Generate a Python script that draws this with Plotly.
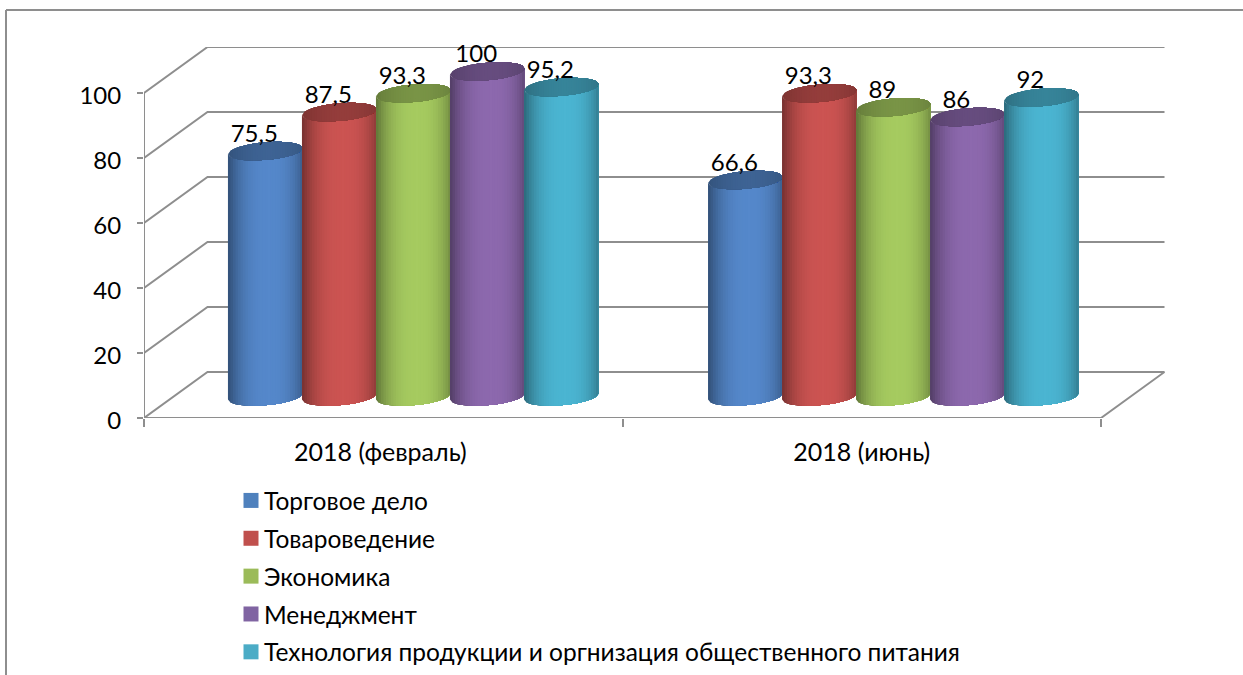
import numpy as np
import plotly.graph_objects as go

# ---- data ----
categories = ["2018 (февраль)", "2018 (июнь)"]
series_names = ["Торговое дело", "Товароведение", "Экономика", "Менеджмент",
                "Технология продукции и оргнизация общественного питания"]
torg = [75.5, 66.6]
tovar = [87.5, 93.3]
econ = [93.3, 89]
manag = [100, 86]
tech = [95.2, 92]
y_ticks = [0, 20, 40, 60, 80, 100]

# ---- style ----
series_values = [torg, tovar, econ, manag, tech]
legend_colors = ["#4F81BD", "#C0504D", "#9BBB59", "#8064A2", "#4BACC6"]
mid_colors = [(85, 136, 203), (204, 84, 82), (166, 203, 96), (141, 105, 174), (75, 181, 210)]
GRAY = "#8E8E8E"
FONT = "Lato"
FS = 24
W, H = 1243, 675
L, R, T, B = 144, 78, 47, 257           # plot area in px
PX_X = 478.5                            # px per category
PX_Y = 3.25                             # px per value unit
DX = 63.5 / PX_X                        # depth offset of the back wall
DY = 46 / PX_Y
X_MAX = (W - R - L) / PX_X
Y_MAX = (H - T - B) / PX_Y
BASE = 21.5 / PX_Y                      # floor of the cylinders above front axis
A, Bb, SK = 37.3 / PX_X, 8.8 / PX_Y, 3.0 / PX_Y   # ellipse half-axes and tilt
STEP = 74.0 / PX_X
CENTERS = [0.5627, 1.566]
N = 30


def shade(rgb, f):
    return "rgb(%d,%d,%d)" % tuple(min(255, int(c * f)) for c in rgb)


def body_f(u):
    d = (u - 0.1) / (1.1 if u < 0.1 else 0.9)
    edge = 0.58 if u < 0.1 else 0.70
    return 1 - (1 - edge) * abs(d) ** 2.6


def cap_f(u):
    d = (u - 0.1) / 1.1
    return 0.73 * (1 - 0.16 * d * d)


def arc(u, cy, sign):
    return cy + SK * u + sign * Bb * np.sqrt(max(0.0, 1 - u * u))


fig = go.Figure()

# back wall, side wall, floor and axes
gx, gy = [], []
for v in y_ticks:
    gx += [0, DX, 2 + DX, None]
    gy += [v, v + DY, v + DY, None]
gx += [0, 0, None, 0, 2, 2 + DX, None]
gy += [0, y_ticks[-1], None, 0, 0, DY, None]
fig.add_trace(go.Scatter(x=gx, y=gy, mode="lines", line=dict(color=GRAY, width=2),
                         cliponaxis=False, showlegend=False, hoverinfo="skip"))

edges = np.linspace(-1, 1, N + 1)
for s, vals in enumerate(series_values):
    off = (s - 2) * STEP
    for part in ("body", "cap"):
        for k in range(N):
            # each strip runs to the far edge and is painted over by the next one
            u0, um = edges[k], (edges[k] + edges[k + 1]) / 2
            us = np.linspace(u0, 1, N - k + 1)
            xs, ys = [], []
            for g, v in enumerate(vals):
                cx = CENTERS[g] + off
                top = BASE + v
                xl = [cx + A * u for u in us]
                if part == "body":
                    lo = [arc(u, BASE, -1) for u in us]
                    hi = [arc(u, top, -1) for u in us]
                else:
                    lo = [arc(u, top, -1) for u in us]
                    hi = [arc(u, top, 1) for u in us]
                xs += xl + xl[::-1] + [xl[0], None]
                ys += lo + hi[::-1] + [lo[0], None]
            f = body_f(um) if part == "body" else cap_f(um)
            col = shade(mid_colors[s], f)
            fig.add_trace(go.Scatter(x=xs, y=ys, mode="none", fill="toself", fillcolor=col,
                                     showlegend=False, hoverinfo="skip"))

# data labels
for s, vals in enumerate(series_values):
    fig.add_trace(go.Scatter(
        x=[CENTERS[g] + (s - 2) * STEP - 11 / PX_X for g in range(len(vals))],
        y=[BASE + v + 15.5 / PX_Y for v in vals],
        text=[f"{v:g}".replace(".", ",") for v in vals],
        mode="text", textposition="middle center", cliponaxis=False,
        textfont=dict(family=FONT, size=FS, color="#000000"),
        showlegend=False, hoverinfo="skip"))

# legend entries
for s, name in enumerate(series_names):
    fig.add_trace(go.Scatter(x=[None], y=[None], mode="markers", name=name,
                             legendgroup=name,
                             marker=dict(symbol="square", size=15, color=legend_colors[s])))

fig.update_layout(
    width=W, height=H, autosize=False,
    margin=dict(l=L, r=R, t=T, b=B, pad=0, autoexpand=False),
    paper_bgcolor="white", plot_bgcolor="white",
    font=dict(family=FONT, size=FS, color="#000000"),
    xaxis=dict(range=[0, X_MAX], showgrid=False, zeroline=False, showline=False,
               automargin=False, tickangle=0,
               tickmode="array", tickvals=[0.494, 1.5], ticktext=categories, ticks="",
               ticklabelstandoff=17, tickfont=dict(family=FONT, size=25),
               minor=dict(tickmode="array", tickvals=[0, 1, 2], ticks="outside",
                          ticklen=8, tickwidth=2, tickcolor=GRAY, showgrid=False)),
    yaxis=dict(range=[0, Y_MAX], showgrid=False, zeroline=False, showline=False,
               automargin=False,
               tickmode="array", tickvals=y_ticks, ticks="outside", ticklen=6,
               tickwidth=2, tickcolor=GRAY, ticklabelstandoff=11, ticklabelshift=3,
               tickfont=dict(family=FONT, size=FS)),
    legend=dict(x=224 / W, xref="container", y=1 - 478 / H, yref="container",
                xanchor="left", yanchor="top", tracegroupgap=3,
                font=dict(family=FONT, size=24.5), bgcolor="rgba(0,0,0,0)"),
    shapes=[dict(type="line", xref="paper", yref="paper",
                 x0=(6 - L) / (W - L - R), x1=(W - L) / (W - L - R),
                 y0=1 + (T - 10) / (H - T - B), y1=1 + (T - 10) / (H - T - B),
                 line=dict(color=GRAY, width=2)),
            dict(type="line", xref="paper", yref="paper",
                 x0=(6 - L) / (W - L - R), x1=(6 - L) / (W - L - R),
                 y0=1 + (T - 10) / (H - T - B), y1=-B / (H - T - B),
                 line=dict(color=GRAY, width=2))],
)

fig.write_html("out.html", config={"displayModeBar": False},
               post_script="document.body.style.margin='0';"
                           "document.querySelectorAll('.legend .scatterpts')"
                           ".forEach(function(e){e.setAttribute('transform','translate(27,0)');});")
